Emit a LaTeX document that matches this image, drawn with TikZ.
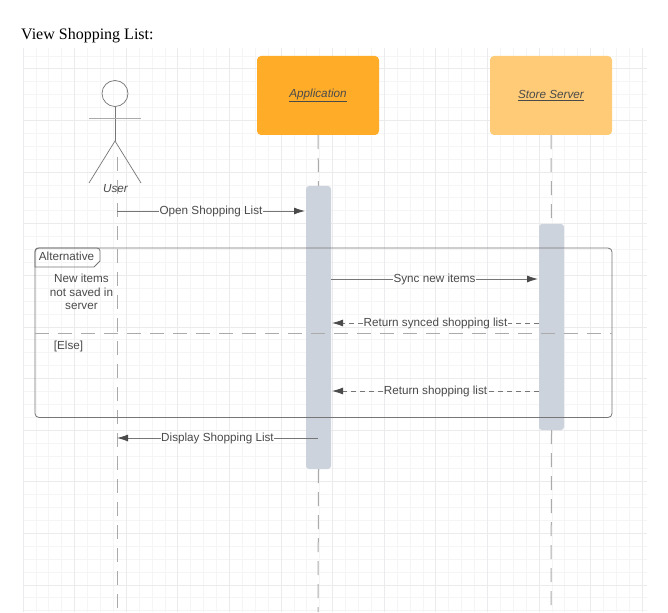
\documentclass[tikz,border=0pt]{standalone}
\usepackage{fontspec}
\setmainfont{Liberation Sans}
\newfontfamily\titlefont{Liberation Serif}
\usetikzlibrary{arrows.meta,calc}
\definecolor{gridminor}{HTML}{F5F5F6}
\definecolor{gridmajor}{HTML}{EBEBED}
\definecolor{linegray}{HTML}{767676}
\definecolor{dashgray}{HTML}{ABABAB}
\definecolor{txtgray}{HTML}{4A4A4A}
\definecolor{barfill}{HTML}{CDD3DC}
\definecolor{appfill}{HTML}{FFAD29}
\definecolor{serverfill}{HTML}{FFCB76}
\tikzset{
  participant/.style={draw=none,rounded corners=4pt,minimum width=122pt,minimum height=79pt,inner sep=0pt,text=txtgray,font=\fontsize{11.7}{13}\selectfont\itshape},
  activation/.style={fill=barfill,draw=none,rounded corners=3pt,minimum width=25pt,inner sep=0pt},
  lifeline/.style={draw=dashgray,line width=1pt,dash pattern=on 14pt off 9pt},
  msgline/.style={draw=linegray,line width=0.8pt},
  msg/.style={msgline,-{Latex[length=11pt,width=7pt,color=txtgray]}},
  retline/.style={msgline,dash pattern=on 5pt off 4pt},
  retmsg/.style={msg,dash pattern=on 5pt off 4pt},
  msglabel/.style={inner sep=0.5pt,text=txtgray,yshift=-0.4pt,font=\fontsize{11.7}{13}\selectfont},
  framelabel/.style={inner sep=0pt,text=txtgray,align=center,font=\fontsize{11.7}{13.6}\selectfont},
  actorline/.style={draw=linegray,line width=0.7pt}
}
\begin{document}
\begin{tikzpicture}[x=1pt,y=-1pt]
\useasboundingbox (0,0) rectangle (668,612);
\fill[white] (0,0) rectangle (668,612);
% grid
\foreach \i in {0,...,48}{
  \pgfmathsetmacro\gx{23.1+12.9*\i}
  \draw[gridminor,line width=1pt] (\gx,48) -- (\gx,612);
}
\foreach \i in {0,...,43}{
  \pgfmathsetmacro\gy{56.1+12.9*\i}
  \draw[gridminor,line width=1pt] (23,\gy) -- (647,\gy);
}
\foreach \i in {0,...,12}{
  \pgfmathsetmacro\gx{23.1+51.6*\i}
  \draw[gridmajor,line width=1pt] (\gx,48) -- (\gx,612);
}
\foreach \i in {0,...,10}{
  \pgfmathsetmacro\gy{69+51.6*\i}
  \draw[gridmajor,line width=1pt] (23,\gy) -- (647,\gy);
}
\node[anchor=base west,inner sep=0pt,font=\fontsize{16}{18}\selectfont\titlefont] (title) at (21,40) {View Shopping List:};
% participants
\node[participant,fill=appfill] (app) at (318,95.5) {\raisebox{-2.2pt}{\underline{Application}}};
\node[participant,fill=serverfill] (server) at (551,95.5) {\raisebox{-2.2pt}{\underline{Store Server}}};
% activations
\node[activation,minimum height=283pt] (appbar) at (318.5,327.5) {};
\node[activation,minimum height=206pt] (serverbar) at (551.5,327) {};
% actor
\node[circle,draw=linegray,line width=0.7pt,minimum size=26pt,inner sep=0pt] (head) at (115,93.5) {};
\coordinate (hip) at (115,141);
\coordinate (armL) at (89,119);
\coordinate (armR) at (141,119);
\coordinate (footL) at (89,183);
\coordinate (footR) at (141,183);
\draw[actorline] (head.south) -- (hip);
\draw[actorline,draw=dashgray,line width=1pt] (armL) -- (armR);
\draw[actorline] (footL) -- (hip) -- (footR);
% lifelines
\coordinate (userTop) at (117,157);
\coordinate (userEnd) at (117,612);
\coordinate (appEnd) at (318,612);
\coordinate (serverEnd) at (551,612);
\draw[lifeline] (userTop) -- (userEnd);
\draw[lifeline] (app.south) -- (appbar.north);
\draw[lifeline] (appbar.south) -- (appEnd);
\draw[lifeline] (server.south) -- (serverbar.north);
\draw[lifeline] (serverbar.south) -- (serverEnd);
\node[inner sep=0pt,text=txtgray,font=\fontsize{11.7}{13}\selectfont\itshape] (user) at (115.5,188.5) {User};
% frame
\coordinate (frTL) at (35,248);
\coordinate (frBR) at (612,417.5);
\draw[draw=linegray,line width=0.8pt,rounded corners=4pt] (frTL) rectangle (frBR);
\path[draw=linegray,line width=0.8pt] (35,267) -- (35,252) [rounded corners=3pt] -- (35,248) -- (100,248) [sharp corners] -- (100,261) -- (94,267) -- cycle;
\node[inner sep=0pt,text=txtgray,font=\fontsize{11.7}{13}\selectfont] (alt) at (66.5,256) {Alternative};
\node[framelabel] (cond) at (81.5,292) {New items\\not saved in\\server};
\node[framelabel] (else) at (68.5,346) {[Else]};
\coordinate (divL) at (35,333);
\coordinate (divR) at (612,333);
\draw[lifeline] (divL) -- (divR);
% messages
\coordinate (m1s) at (117,211);
\coordinate (m1e) at (305,211);
\path (m1s) -- node[msglabel] (l1) {Open Shopping List} (m1e);
\draw[msgline] (m1s) -- (m1s-|l1.west);
\draw[msg] (m1s-|l1.east) -- (m1e);
\coordinate (m2s) at (331,279);
\coordinate (m2e) at (538,279);
\path (m2s) -- node[msglabel] (l2) {Sync new items} (m2e);
\draw[msgline] (m2s) -- (m2s-|l2.west);
\draw[msg] (m2s-|l2.east) -- (m2e);
\coordinate (m3s) at (539,323);
\coordinate (m3e) at (332,323);
\path (m3s) -- node[msglabel] (l3) {Return synced shopping list} (m3e);
\draw[retline] (m3s) -- (m3s-|l3.east);
\draw[retmsg] (m3s-|l3.west) -- (m3e);
\coordinate (m4s) at (539,391);
\coordinate (m4e) at (332,391);
\path (m4s) -- node[msglabel] (l4) {Return shopping list} (m4e);
\draw[retline] (m4s) -- (m4s-|l4.east);
\draw[retmsg] (m4s-|l4.west) -- (m4e);
\coordinate (m5s) at (318,438);
\coordinate (m5e) at (117,438);
\path (m5s) -- node[msglabel] (l5) {Display Shopping List} (m5e);
\draw[msgline] (m5s) -- (m5s-|l5.east);
\draw[msg] (m5s-|l5.west) -- (m5e);
\end{tikzpicture}
\end{document}
